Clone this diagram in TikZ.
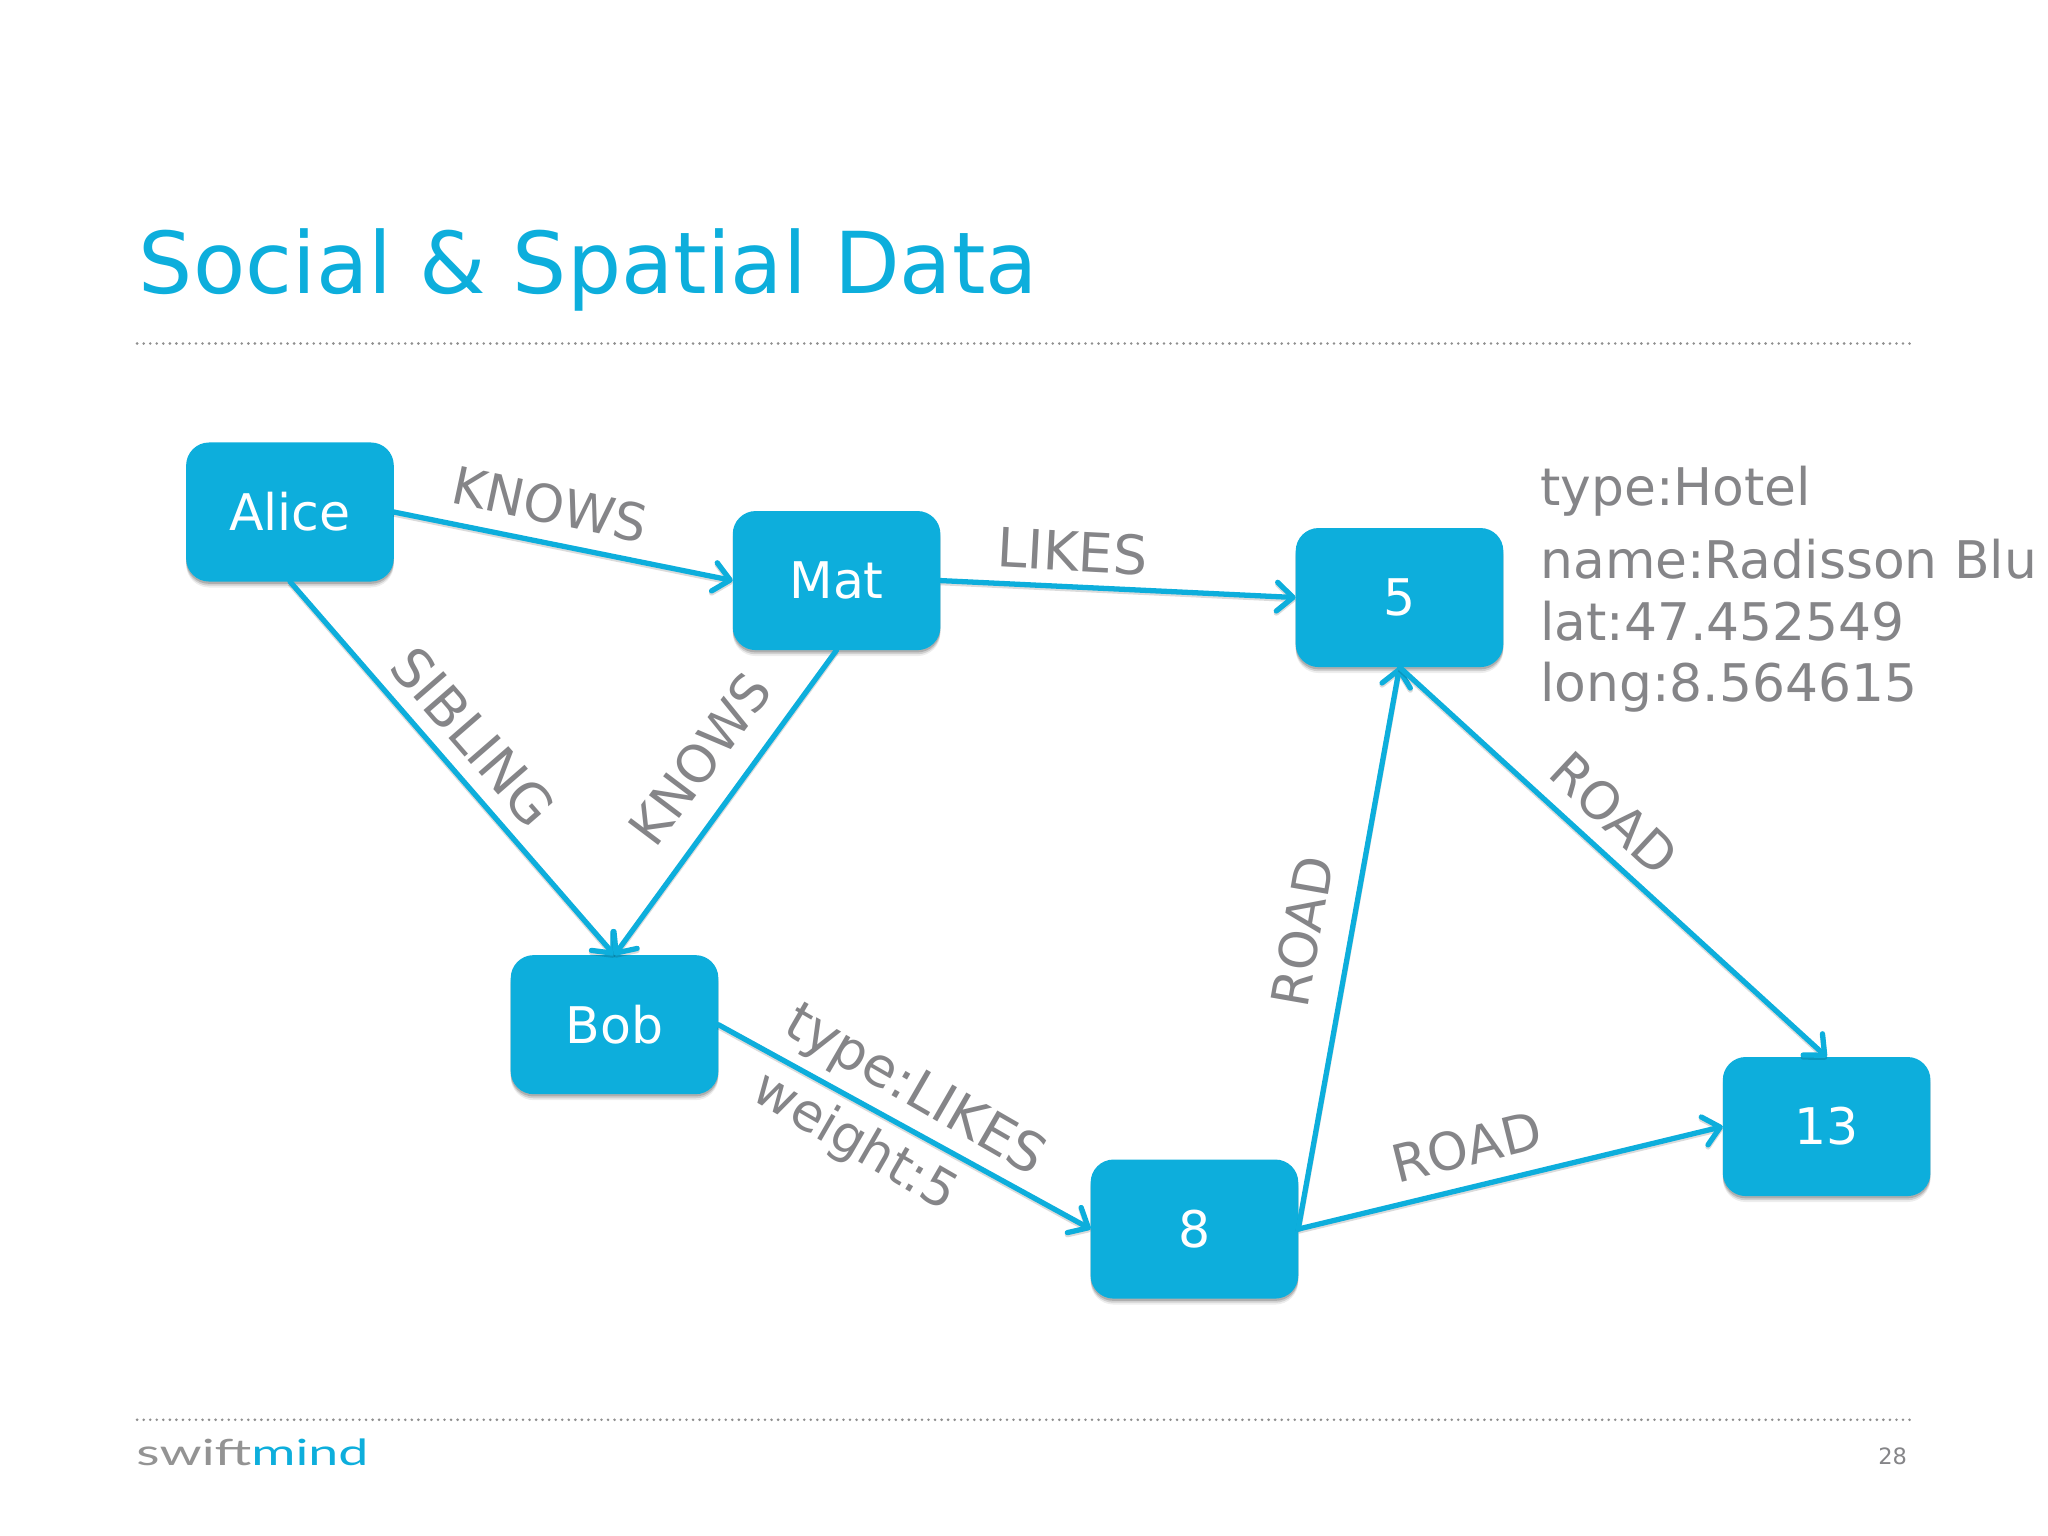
\documentclass[tikz,border=0pt]{standalone}
\usepackage{fontspec}
\setmainfont{DejaVu Sans}
\newfontfamily\logofont{Lato}
\usetikzlibrary{arrows.meta,shadows}
\definecolor{brandblue}{HTML}{0DAEDC}
\definecolor{labelgray}{HTML}{858588}
\definecolor{rulegray}{HTML}{8F8F8F}
\newcommand{\nudge}[1]{\raisebox{-.8pt}{#1}}
\tikzset{
  softshadow/.style={
    drop shadow={shadow xshift=0pt,shadow yshift=-2.6pt,opacity=.07,fill=black},
    drop shadow={shadow xshift=0pt,shadow yshift=-1.8pt,opacity=.12,fill=black},
    drop shadow={shadow xshift=0pt,shadow yshift=-1pt,opacity=.16,fill=black}},
  nodebox/.style={rectangle,rounded corners=10pt,fill=brandblue,text=white,
    minimum width=3.18cm,minimum height=2.13cm,inner sep=0pt,outer sep=0pt,
    font=\fontsize{22}{26}\selectfont,softshadow},
  barb/.style={-{Straight Barb[length=7pt,width=12.5pt,round]}},
  link/.style={draw=brandblue,line width=2.3pt,line cap=round,barb,
    preaction={draw=black,draw opacity=.14,line width=2.3pt,transform canvas={yshift=-0.9pt}}},
  edgelabel/.style={text=labelgray,inner sep=0pt,font=\fontsize{22.6}{26}\selectfont},
  widelabel/.style={text=labelgray,inner sep=0pt,font=\fontsize{23.6}{26}\selectfont},
  infotext/.style={text=labelgray,inner sep=0pt,anchor=base west,font=\fontsize{22.6}{26}\selectfont},
  dotrule/.style={draw=rulegray,line width=1.25pt,line cap=round,dash pattern=on 0pt off 2.85pt},
}
\begin{document}
\begin{tikzpicture}[x=0.02cm,y=-0.02cm]
\useasboundingbox[fill=white] (0,0) rectangle (1568,1176);
% header and footer
\node[text=brandblue,anchor=base west,inner sep=0pt,font=\fontsize{37.2}{44}\selectfont] (title) at (106,225) {Social \& Spatial Data};
\coordinate (rulea) at (105,263); \coordinate (ruleb) at (1462,263);
\draw[dotrule] (rulea) -- (ruleb);
\coordinate (rulec) at (105,1087); \coordinate (ruled) at (1462,1087);
\draw[dotrule] (rulec) -- (ruled);
\node[anchor=base west,inner sep=0pt] (logo) at (104,1122) {\logofont\fontsize{15}{18}\selectfont\scalebox{1.56}[1.05]{\textcolor{gray!85}{swift}\textcolor{brandblue}{mind}}};
\node[text=labelgray,inner sep=0pt,font=\fontsize{9.8}{12}\selectfont] (page) at (1449,1115) {28};
% nodes
\node[nodebox] (alice) at (222,392) {\nudge{Alice}};
\node[nodebox] (mat) at (640.5,444.5) {\nudge{Mat}};
\node[nodebox] (five) at (1071.5,457.5) {\nudge{5}};
\node[nodebox] (bob) at (470.5,784.5) {\nudge{Bob}};
\node[nodebox] (eight) at (914.5,941) {\nudge{8}};
\node[nodebox] (thirteen) at (1398.5,862.5) {\nudge{13}};
% connectors
\draw[link] (alice.east) -- (mat.west);
\draw[link] (alice.south) -- (bob.north);
\draw[link] (mat.south) -- (bob.north);
\draw[link] (mat.east) -- (five.west);
\draw[link] (bob.east) -- (eight.west);
\draw[link] (eight.east) -- (five.south);
\draw[link] (eight.east) -- (thirteen.west);
\draw[link] (five.south) -- (thirteen.north);
% connector labels
\node[edgelabel,rotate=-12] (l1) at (421,386) {KNOWS};
\node[widelabel,rotate=-3] (l2) at (821,422) {LIKES};
\node[widelabel,rotate=-49] (l3) at (362.5,564) {SIBLING};
\node[edgelabel,rotate=53] (l4) at (536,581) {KNOWS};
\node[edgelabel,rotate=-43] (l5) at (1236,623) {ROAD};
\node[edgelabel,rotate=80] (l6) at (997,713) {ROAD};
\node[edgelabel,rotate=14] (l7) at (1123,878) {ROAD};
\node[widelabel,rotate=-30] (l8) at (700,836) {type:LIKES};
\node[edgelabel,rotate=-30] (l9) at (654,875) {weight:5};
% hotel properties
\node[infotext] (i1) at (1179,387) {type:Hotel};
\node[infotext] (i2) at (1179,443) {name:Radisson Blu};
\node[infotext] (i3) at (1179,490) {lat:47.452549};
\node[infotext] (i4) at (1179,537) {long:8.564615};
\end{tikzpicture}
\end{document}
